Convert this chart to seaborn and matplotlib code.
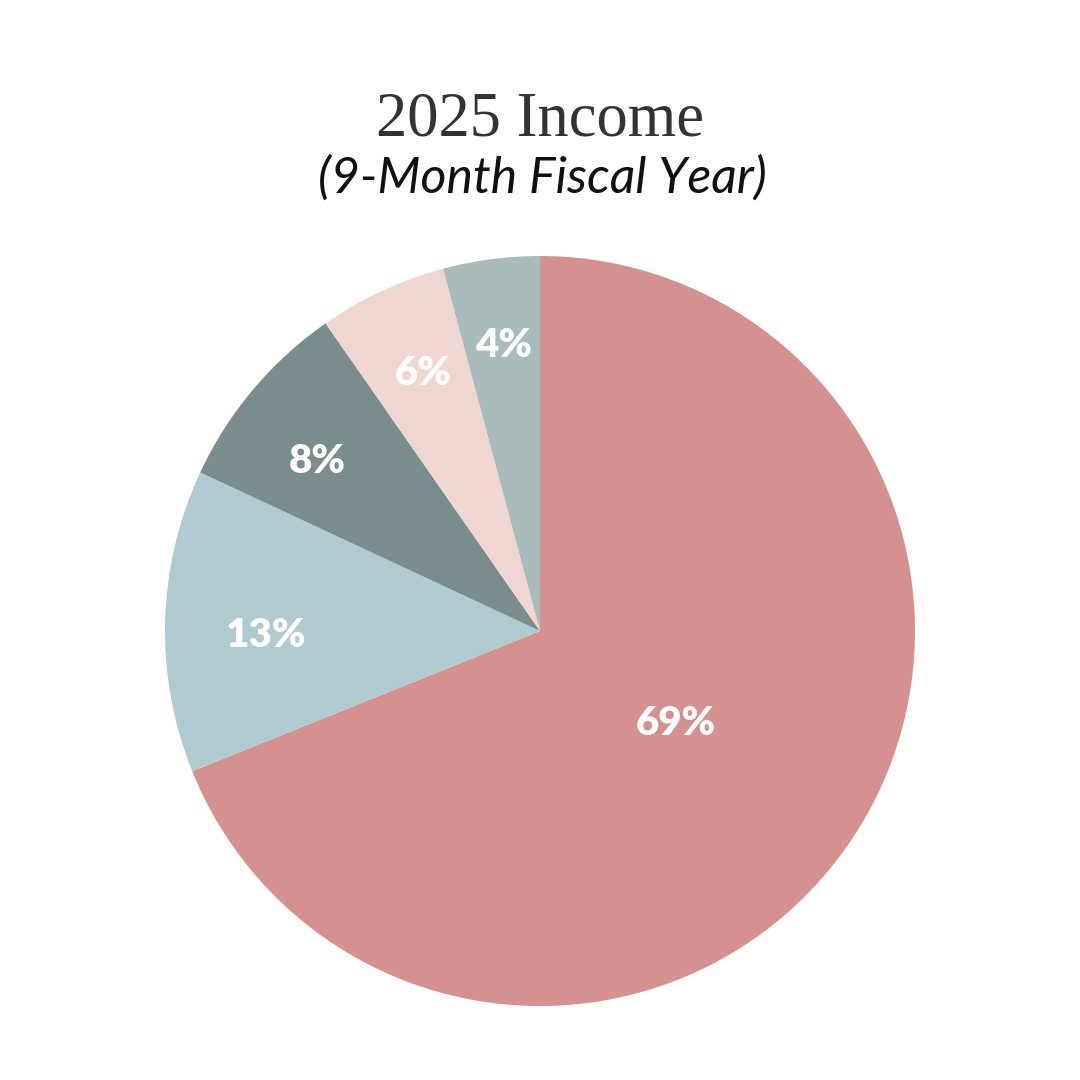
import numpy as np
import matplotlib
matplotlib.use("Agg")
import matplotlib.pyplot as plt
import seaborn as sns

# Data (shares)
categories = ["Category A", "Category B", "Category C", "Category D", "Category E"]
shares = [68.9, 13.05, 8.36, 5.53, 4.16]
labels = ["69%", "13%", "8%", "6%", "4%"]
colors = ["#D4918F", "#B0CBCF", "#7A8D8E", "#F0D6D0", "#A9BBBB"]

# label placement style (radius fraction, angular offset in degrees)
label_radius = [0.432, 0.731, 0.751, 0.763, 0.776]
label_offset = [0.8, 1.7, 2.2, -0.8, -0.4]

title = "2025 Income"
subtitle = "(9-Month Fiscal Year)"

sns.set_theme(style="white")
palette = sns.color_palette(colors)

fig = plt.figure(figsize=(10.8, 10.8), dpi=100)
fig.patch.set_facecolor("white")
ax = fig.add_axes([165/1080, 74/1080, 750/1080, 750/1080])

wedges, _ = ax.pie(shares, colors=palette, startangle=90, counterclock=False,
                   radius=1.0, wedgeprops=dict(linewidth=0))
ax.set_xlim(-1, 1)
ax.set_ylim(-1, 1)
ax.set_aspect("equal")
ax.axis("off")

for w, lab, r, off in zip(wedges, labels, label_radius, label_offset):
    ang = np.deg2rad((w.theta1 + w.theta2) / 2 + off)
    ax.text(r * np.cos(ang), r * np.sin(ang), lab, ha="center", va="center_baseline",
            color="white", fontsize=29, fontweight="heavy", family=["Lato", "DejaVu Sans"])

fig.text(0.5, (1080 - 135) / 1080, title, ha="center", va="baseline",
         fontsize=45, color="#333333", family=["Liberation Serif", "DejaVu Serif"])
fig.text(0.502, (1080 - 193) / 1080, subtitle, ha="center", va="baseline",
         fontsize=36, color="#111111", style="italic", fontweight="normal",
         family=["Lato", "DejaVu Sans"])

fig.savefig("out.png", dpi=100, facecolor="white")
